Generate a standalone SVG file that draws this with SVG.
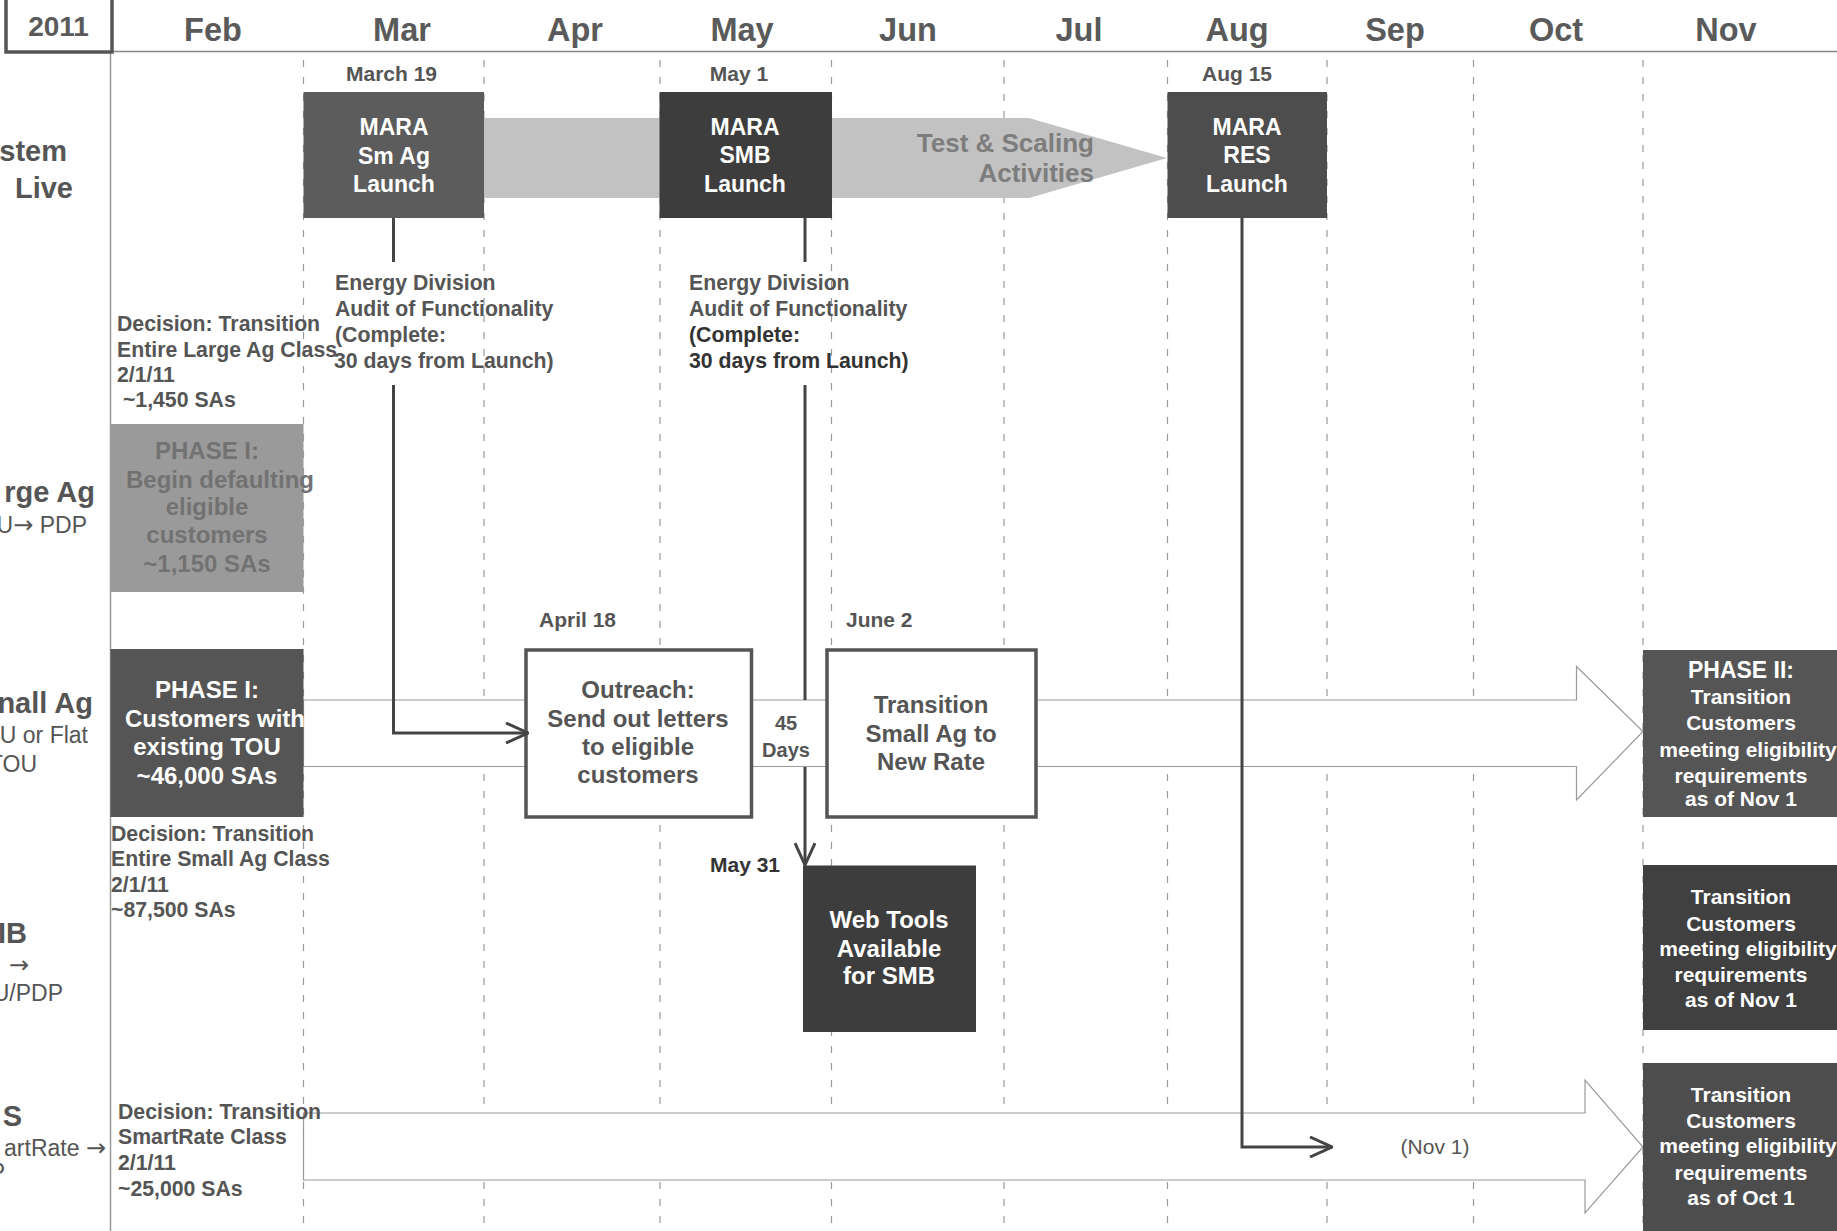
<svg xmlns="http://www.w3.org/2000/svg" width="1837" height="1231" viewBox="0 0 1837 1231">
<style>
text{font-family:"Liberation Sans",Arial,Helvetica,sans-serif}
.month{font-size:32.5px;font-weight:bold;fill:#5a5a5a;text-anchor:middle}
.date{font-size:21px;font-weight:bold;fill:#555}
.lbl{font-size:21.25px;font-weight:bold;fill:#555}
.dark{fill:#333}
.wt{fill:#fff;font-weight:bold;text-anchor:middle}
.gt{fill:#555;font-weight:bold;text-anchor:middle;font-size:24px}
.grid{stroke:#9a9a9a;stroke-width:1.2;stroke-dasharray:7 10;fill:none}
.conn{stroke:#444;stroke-width:3;fill:none}
.band{fill:#fff;stroke:#9a9a9a;stroke-width:1.2}
.row{font-size:29px;font-weight:bold;fill:#555;text-anchor:end}
.rowsub{font-size:23px;fill:#555;text-anchor:end}
.ar{font-family:"DejaVu Sans",sans-serif;font-size:24px}
.wbox{fill:#fff;stroke:#555;stroke-width:3.5}
</style>
<defs>
<marker id="arr" viewBox="0 0 24 22" refX="23" refY="11" markerWidth="24" markerHeight="22" markerUnits="userSpaceOnUse" orient="auto">
<path d="M1,1 L23,11 L1,21" fill="none" stroke="#444" stroke-width="3"/>
</marker>
</defs>
<rect width="1837" height="1231" fill="#fff"/>

<g id="grid">
<line x1="112" y1="51.5" x2="1837" y2="51.5" stroke="#888" stroke-width="1.5"/>
<line x1="110.5" y1="53" x2="110.5" y2="1231" stroke="#999" stroke-width="1.5"/>
<line class="grid" x1="303.5" y1="60" x2="303.5" y2="1231"/>
<line class="grid" x1="484" y1="60" x2="484" y2="1231"/>
<line class="grid" x1="660" y1="60" x2="660" y2="1231"/>
<line class="grid" x1="831.5" y1="60" x2="831.5" y2="1231"/>
<line class="grid" x1="1004" y1="60" x2="1004" y2="1231"/>
<line class="grid" x1="1167.5" y1="60" x2="1167.5" y2="1231"/>
<line class="grid" x1="1327" y1="60" x2="1327" y2="1231"/>
<line class="grid" x1="1473.5" y1="60" x2="1473.5" y2="1231"/>
<line class="grid" x1="1643" y1="60" x2="1643" y2="1231"/>
</g>

<g id="header">
<rect x="6" y="-10" width="106" height="62" fill="#fff" stroke="#555" stroke-width="3.5"/>
<text x="58.5" y="36" font-size="28" font-weight="bold" fill="#5a5a5a" text-anchor="middle">2011</text>
<text class="month" x="213" y="41">Feb</text>
<text class="month" x="402" y="41">Mar</text>
<text class="month" x="575" y="41">Apr</text>
<text class="month" x="742" y="41">May</text>
<text class="month" x="908" y="41">Jun</text>
<text class="month" x="1079" y="41">Jul</text>
<text class="month" x="1237" y="41">Aug</text>
<text class="month" x="1395" y="41">Sep</text>
<text class="month" x="1556" y="41">Oct</text>
<text class="month" x="1726" y="41">Nov</text>
</g>

<g id="row-labels">
<text class="row" x="67" y="161">stem</text>
<text class="row" x="73" y="198">Live</text>
<text class="row" x="95" y="502">rge Ag</text>
<text class="rowsub" x="87" y="533">U<tspan class="ar">→</tspan> PDP</text>
<text class="row" x="93" y="713">nall Ag</text>
<text class="rowsub" x="88" y="743">U or Flat</text>
<text class="rowsub" x="37" y="772">TOU</text>
<text class="row" x="27" y="943">IB</text>
<text class="rowsub" x="29" y="973"><tspan class="ar">→</tspan></text>
<text class="rowsub" x="63" y="1001">U/PDP</text>
<text class="row" x="22" y="1126">S</text>
<text class="rowsub" x="106" y="1156">artRate <tspan class="ar">→</tspan></text>
<text class="rowsub" x="5" y="1180">P</text>
</g>

<g id="test-scaling-band">
<polygon points="484,118 1029,118 1167,158 1029,198 484,198" fill="#c2c2c2"/>
<text x="1094" y="152" font-size="26" font-weight="bold" fill="#7d7d7d" text-anchor="end">Test &amp; Scaling</text>
<text x="1094" y="182" font-size="26" font-weight="bold" fill="#7d7d7d" text-anchor="end">Activities</text>
</g>

<g id="smallag-band">
<polygon class="band" points="303.5,700 1576.5,700 1576.5,666.5 1643,731.5 1576.5,800 1576.5,766.5 303.5,766.5"/>
</g>
<g id="res-band">
<polygon class="band" points="303.5,1113 1585,1113 1585,1080 1643,1147 1585,1213 1585,1180 303.5,1180"/>
</g>

<g id="mara-smag">
<text class="date" x="391.5" y="81" text-anchor="middle">March 19</text>
<rect x="303.5" y="92" width="180.5" height="126" fill="#5c5c5c"/>
<text class="wt" font-size="23" x="394" y="135">MARA</text>
<text class="wt" font-size="23" x="394" y="164">Sm Ag</text>
<text class="wt" font-size="23" x="394" y="192">Launch</text>
</g>
<g id="mara-smb">
<text class="date" x="739" y="81" text-anchor="middle">May 1</text>
<rect x="659.5" y="92" width="172.5" height="126" fill="#3d3d3d"/>
<text class="wt" font-size="23" x="745" y="135">MARA</text>
<text class="wt" font-size="23" x="745" y="163">SMB</text>
<text class="wt" font-size="23" x="745" y="192">Launch</text>
</g>
<g id="mara-res">
<text class="date" x="1237" y="81" text-anchor="middle">Aug 15</text>
<rect x="1167.5" y="92" width="159.5" height="126" fill="#4d4d4d"/>
<text class="wt" font-size="23" x="1247" y="135">MARA</text>
<text class="wt" font-size="23" x="1247" y="163">RES</text>
<text class="wt" font-size="23" x="1247" y="192">Launch</text>
</g>

<g id="audit-smag">
<text class="lbl" x="335" y="290">Energy Division</text>
<text class="lbl" x="335" y="316">Audit of Functionality</text>
<text class="lbl" x="335" y="342">(Complete:</text>
<text class="lbl" x="334" y="368">30 days from Launch)</text>
</g>
<g id="audit-smb">
<text class="lbl" x="689" y="290">Energy Division</text>
<text class="lbl" x="689" y="316">Audit of Functionality</text>
<text class="lbl dark" x="689" y="342">(Complete:</text>
<text class="lbl dark" x="689" y="368">30 days from Launch)</text>
</g>

<g id="decision-largeag">
<text class="lbl" x="117" y="331">Decision: Transition</text>
<text class="lbl" x="117" y="357">Entire Large Ag Class</text>
<text class="lbl" x="117" y="382">2/1/11</text>
<text class="lbl" x="117" y="407" xml:space="preserve"> ~1,450 SAs</text>
</g>

<g id="phase1-largeag">
<rect x="110.5" y="424" width="193" height="168" fill="#9a9a9a"/>
<text x="207" y="459" font-size="24" font-weight="bold" fill="#727272" text-anchor="middle">PHASE I:</text>
<text x="220" y="488" font-size="24" font-weight="bold" fill="#727272" text-anchor="middle">Begin defaulting</text>
<text x="207" y="515" font-size="24" font-weight="bold" fill="#727272" text-anchor="middle">eligible</text>
<text x="207" y="543" font-size="24" font-weight="bold" fill="#727272" text-anchor="middle">customers</text>
<text x="207" y="572" font-size="24" font-weight="bold" fill="#727272" text-anchor="middle">~1,150 SAs</text>
</g>

<g id="phase1-smallag">
<rect x="110.5" y="649" width="193" height="168" fill="#555"/>
<text class="wt" font-size="24" x="207" y="698">PHASE I:</text>
<text class="wt" font-size="24" x="215" y="727">Customers with</text>
<text class="wt" font-size="24" x="207" y="755">existing TOU</text>
<text class="wt" font-size="24" x="207" y="784">~46,000 SAs</text>
</g>

<g id="decision-smallag">
<text class="lbl" x="111" y="841">Decision: Transition</text>
<text class="lbl" x="111" y="866">Entire Small Ag Class</text>
<text class="lbl" x="111" y="892">2/1/11</text>
<text class="lbl" x="111" y="917">~87,500 SAs</text>
</g>

<g id="decision-smartrate">
<text class="lbl" x="118" y="1119">Decision: Transition</text>
<text class="lbl" x="118" y="1144">SmartRate Class</text>
<text class="lbl" x="118" y="1170">2/1/11</text>
<text class="lbl" x="118" y="1196">~25,000 SAs</text>
</g>

<g id="outreach">
<text class="date" x="539" y="627">April 18</text>
<rect class="wbox" x="526" y="650" width="225.5" height="167"/>
<text class="gt" x="638" y="698">Outreach:</text>
<text class="gt" x="638" y="727">Send out letters</text>
<text class="gt" x="638" y="755">to eligible</text>
<text class="gt" x="638" y="783">customers</text>
</g>

<g id="days45">
<text x="786" y="730" font-size="20" font-weight="bold" fill="#555" text-anchor="middle">45</text>
<text x="786" y="757" font-size="20" font-weight="bold" fill="#555" text-anchor="middle">Days</text>
</g>

<g id="transition-smallag">
<text class="date" x="846" y="627">June 2</text>
<rect class="wbox" x="827" y="650" width="209" height="167"/>
<text class="gt" x="931" y="713">Transition</text>
<text class="gt" x="931" y="742">Small Ag to</text>
<text class="gt" x="931" y="770">New Rate</text>
</g>

<g id="webtools">
<text class="date dark" x="710" y="872">May 31</text>
<rect x="803" y="865.5" width="173" height="166.5" fill="#3d3d3d"/>
<text class="wt" font-size="24" x="889" y="928">Web Tools</text>
<text class="wt" font-size="24" x="889" y="957">Available</text>
<text class="wt" font-size="24" x="889" y="984">for SMB</text>
</g>

<g id="phase2-smallag">
<rect x="1643" y="650" width="200" height="167" fill="#555"/>
<text class="wt" font-size="23" x="1741" y="678">PHASE II:</text>
<text class="wt" font-size="21" x="1741" y="704">Transition</text>
<text class="wt" font-size="21" x="1741" y="730">Customers</text>
<text class="wt" font-size="21" x="1748" y="757">meeting eligibility</text>
<text class="wt" font-size="21" x="1741" y="783">requirements</text>
<text class="wt" font-size="21" x="1741" y="806">as of Nov 1</text>
</g>

<g id="transition-smb">
<rect x="1643" y="865" width="200" height="165" fill="#404040"/>
<text class="wt" font-size="21" x="1741" y="904">Transition</text>
<text class="wt" font-size="21" x="1741" y="931">Customers</text>
<text class="wt" font-size="21" x="1748" y="956">meeting eligibility</text>
<text class="wt" font-size="21" x="1741" y="982">requirements</text>
<text class="wt" font-size="21" x="1741" y="1007">as of Nov 1</text>
</g>

<g id="transition-res">
<rect x="1643" y="1063" width="200" height="175" fill="#4d4d4d"/>
<text class="wt" font-size="21" x="1741" y="1102">Transition</text>
<text class="wt" font-size="21" x="1741" y="1128">Customers</text>
<text class="wt" font-size="21" x="1748" y="1153">meeting eligibility</text>
<text class="wt" font-size="21" x="1741" y="1180">requirements</text>
<text class="wt" font-size="21" x="1741" y="1205">as of Oct 1</text>
</g>

<g id="nov1">
<text x="1435" y="1154" font-size="21" fill="#555" text-anchor="middle">(Nov 1)</text>
</g>

<g id="connectors">
<line class="conn" x1="393.5" y1="218" x2="393.5" y2="262"/>
<polyline class="conn" points="393.5,385 393.5,733 528,733" marker-end="url(#arr)"/>
<line class="conn" x1="805" y1="218" x2="805" y2="262"/>
<line class="conn" x1="805" y1="385" x2="805" y2="700"/>
<line class="conn" x1="805" y1="767" x2="805" y2="865" marker-end="url(#arr)"/>
<polyline class="conn" points="1242,218 1242,1147 1332,1147" marker-end="url(#arr)"/>
</g>
</svg>
